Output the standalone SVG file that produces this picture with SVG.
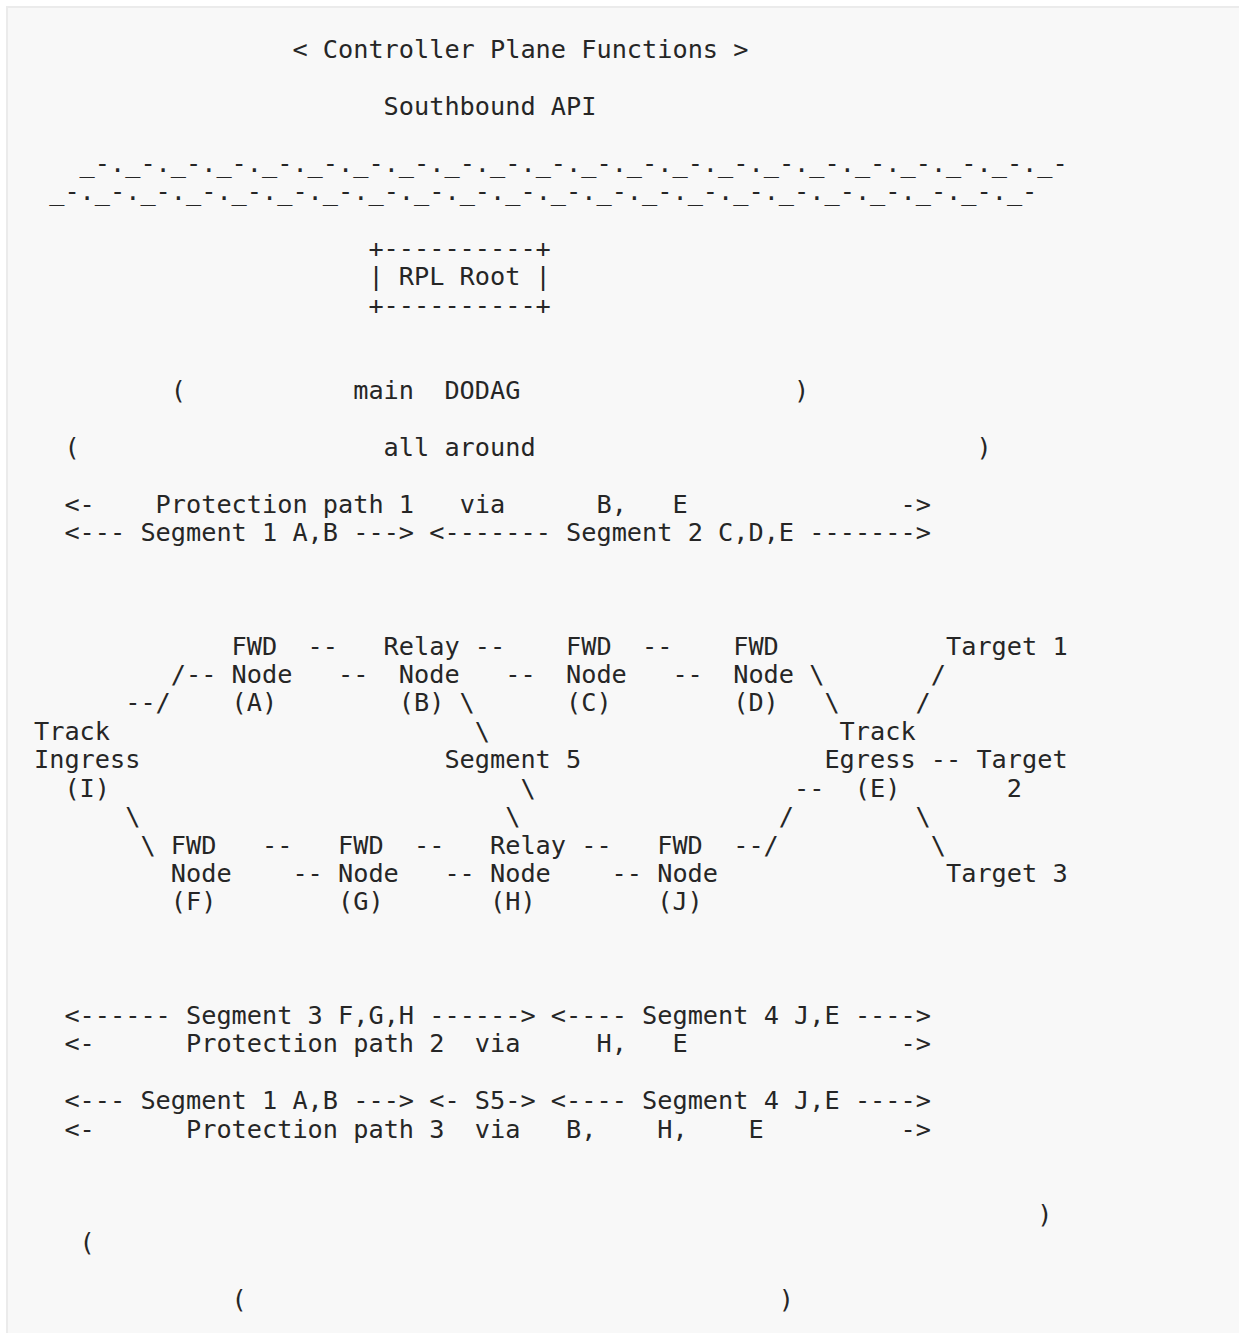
<svg xmlns="http://www.w3.org/2000/svg" width="1239" height="1333" viewBox="0 0 1239 1333" xml:space="preserve">
<style>
.t { font-family: "DejaVu Sans Mono", "Liberation Mono", monospace; font-size: 25.25px; fill: #262626; white-space: pre; }
</style>
<rect x="0" y="0" width="1239" height="1333" fill="#ffffff"/>
<rect x="7" y="7" width="1260" height="1350" fill="#f8f8f8" stroke="#ebebeb" stroke-width="2"/>
<g id="controller-plane">
<text class="t" x="292.4" y="58">&lt; Controller Plane Functions &gt;</text>
</g>
<g id="southbound-api">
<text class="t" x="383.6" y="114.8">Southbound API</text>
<text class="t" x="79.6" y="171.6">_-._-._-._-._-._-._-._-._-._-._-._-._-._-._-._-._-._-._-._-._-._-</text>
<text class="t" x="49.2" y="200.1">_-._-._-._-._-._-._-._-._-._-._-._-._-._-._-._-._-._-._-._-._-._-</text>
</g>
<g id="rpl-root">
<text class="t" x="368.4" y="256.9">+----------+</text>
<text class="t" x="368.4" y="285.3">| RPL Root |</text>
<text class="t" x="368.4" y="313.7">+----------+</text>
</g>
<g id="main-dodag">
<text class="t" x="170.8" y="398.9">(</text>
<text class="t" x="353.2" y="398.9">main  DODAG</text>
<text class="t" x="794" y="398.9">)</text>
<text class="t" x="64.4" y="455.7">(</text>
<text class="t" x="383.6" y="455.7">all around</text>
<text class="t" x="976.4" y="455.7">)</text>
<text class="t" x="1037.2" y="1222.8">)</text>
<text class="t" x="79.6" y="1251.2">(</text>
<text class="t" x="231.6" y="1308">(</text>
<text class="t" x="778.8" y="1308">)</text>
</g>
<g id="protection-path-1">
<text class="t" x="64.4" y="512.6">&lt;-    Protection path 1   via      B,   E              -&gt;</text>
<text class="t" x="64.4" y="541">&lt;--- Segment 1 A,B ---&gt; &lt;------- Segment 2 C,D,E -------&gt;</text>
</g>
<g id="node-A">
<text class="t" x="231.6" y="654.6">FWD</text>
<text class="t" x="231.6" y="683">Node</text>
<text class="t" x="231.6" y="711.4">(A)</text>
</g>
<g id="node-B">
<text class="t" x="383.6" y="654.6">Relay</text>
<text class="t" x="398.8" y="683">Node</text>
<text class="t" x="398.8" y="711.4">(B)</text>
</g>
<g id="node-C">
<text class="t" x="566" y="654.6">FWD</text>
<text class="t" x="566" y="683">Node</text>
<text class="t" x="566" y="711.4">(C)</text>
</g>
<g id="node-D">
<text class="t" x="733.2" y="654.6">FWD</text>
<text class="t" x="733.2" y="683">Node</text>
<text class="t" x="733.2" y="711.4">(D)</text>
</g>
<g id="target-1">
<text class="t" x="946" y="654.6">Target 1</text>
</g>
<g id="track-ingress">
<text class="t" x="34" y="739.8">Track</text>
<text class="t" x="34" y="768.3">Ingress</text>
<text class="t" x="64.4" y="796.7">(I)</text>
</g>
<g id="track-egress">
<text class="t" x="839.6" y="739.8">Track</text>
<text class="t" x="824.4" y="768.3">Egress</text>
<text class="t" x="854.8" y="796.7">(E)</text>
</g>
<g id="target-2">
<text class="t" x="976.4" y="768.3">Target</text>
<text class="t" x="1006.8" y="796.7">2</text>
</g>
<g id="node-F">
<text class="t" x="170.8" y="853.5">FWD</text>
<text class="t" x="170.8" y="881.9">Node</text>
<text class="t" x="170.8" y="910.3">(F)</text>
</g>
<g id="node-G">
<text class="t" x="338" y="853.5">FWD</text>
<text class="t" x="338" y="881.9">Node</text>
<text class="t" x="338" y="910.3">(G)</text>
</g>
<g id="node-H">
<text class="t" x="490" y="853.5">Relay</text>
<text class="t" x="490" y="881.9">Node</text>
<text class="t" x="490" y="910.3">(H)</text>
</g>
<g id="node-J">
<text class="t" x="657.2" y="853.5">FWD</text>
<text class="t" x="657.2" y="881.9">Node</text>
<text class="t" x="657.2" y="910.3">(J)</text>
</g>
<g id="target-3">
<text class="t" x="946" y="881.9">Target 3</text>
</g>
<g id="connectors">
<text class="t" x="307.6" y="654.6">--</text>
<text class="t" x="474.8" y="654.6">--</text>
<text class="t" x="642" y="654.6">--</text>
<text class="t" x="170.8" y="683">/--</text>
<text class="t" x="338" y="683">--</text>
<text class="t" x="505.2" y="683">--</text>
<text class="t" x="672.4" y="683">--</text>
<text class="t" x="809.2" y="683">\</text>
<text class="t" x="930.8" y="683">/</text>
<text class="t" x="125.2" y="711.4">--/</text>
<text class="t" x="459.6" y="711.4">\</text>
<text class="t" x="824.4" y="711.4">\</text>
<text class="t" x="915.6" y="711.4">/</text>
<text class="t" x="474.8" y="739.8">\</text>
<text class="t" x="444.4" y="768.3">Segment 5</text>
<text class="t" x="930.8" y="768.3">--</text>
<text class="t" x="520.4" y="796.7">\</text>
<text class="t" x="794" y="796.7">--</text>
<text class="t" x="125.2" y="825.1">\</text>
<text class="t" x="505.2" y="825.1">\</text>
<text class="t" x="778.8" y="825.1">/</text>
<text class="t" x="915.6" y="825.1">\</text>
<text class="t" x="140.4" y="853.5">\</text>
<text class="t" x="262" y="853.5">--</text>
<text class="t" x="414" y="853.5">--</text>
<text class="t" x="581.2" y="853.5">--</text>
<text class="t" x="733.2" y="853.5">--/</text>
<text class="t" x="930.8" y="853.5">\</text>
<text class="t" x="292.4" y="881.9">--</text>
<text class="t" x="444.4" y="881.9">--</text>
<text class="t" x="611.6" y="881.9">--</text>
</g>
<g id="protection-path-2">
<text class="t" x="64.4" y="1023.9">&lt;------ Segment 3 F,G,H ------&gt; &lt;---- Segment 4 J,E ----&gt;</text>
<text class="t" x="64.4" y="1052.4">&lt;-      Protection path 2  via     H,   E              -&gt;</text>
</g>
<g id="protection-path-3">
<text class="t" x="64.4" y="1109.2">&lt;--- Segment 1 A,B ---&gt; &lt;- S5-&gt; &lt;---- Segment 4 J,E ----&gt;</text>
<text class="t" x="64.4" y="1137.6">&lt;-      Protection path 3  via   B,    H,    E         -&gt;</text>
</g>
</svg>
